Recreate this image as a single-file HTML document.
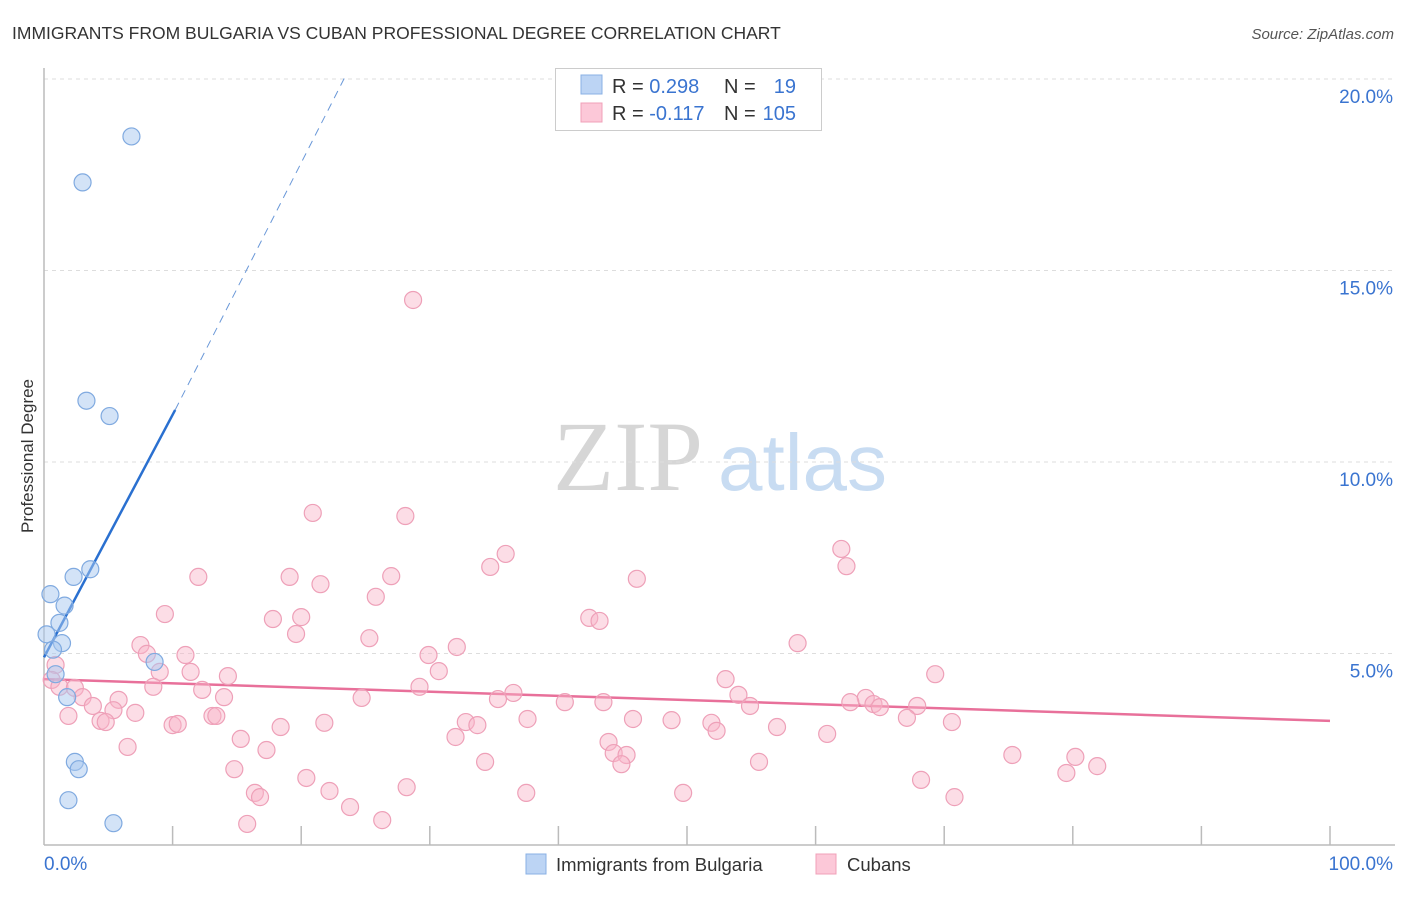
<!DOCTYPE html>
<html><head><meta charset="utf-8"><style>
body{margin:0;background:#fff;font-family:"Liberation Sans",sans-serif;}
</style></head><body>
<svg id="chart" width="1406" height="892" xmlns="http://www.w3.org/2000/svg" font-family="Liberation Sans, sans-serif">
<text x="12" y="39" font-size="17.5" fill="#333">IMMIGRANTS FROM BULGARIA VS CUBAN PROFESSIONAL DEGREE CORRELATION CHART</text>
<text x="1394" y="39" font-size="15" fill="#555" text-anchor="end" font-style="italic">Source: ZipAtlas.com</text>
<g>
<text x="553" y="490" font-size="100" fill="#d6d6d6" style="font-family:'Liberation Serif',serif">ZIP</text>
<text x="718" y="490" font-size="80" fill="#c8dcf2">atlas</text>
</g>
<g id="grid"></g>
<g id="axes"></g>
<text transform="translate(33,456) rotate(-90)" font-size="17" fill="#333" text-anchor="middle">Professional Degree</text>
<g id="lines"></g>
<g id="pts"></g>
<g>
<rect x="555.5" y="68.5" width="266" height="62" fill="#fff" stroke="#ccc"/>
<rect x="581" y="75" width="21" height="19" fill="#bcd4f4" stroke="#8ab0e4"/>
<rect x="581" y="103" width="21" height="19" fill="#fcc8d8" stroke="#f0a0b8"/>
<text x="612" y="93" font-size="20" fill="#333">R = <tspan fill="#3a74d0">0.298</tspan></text>
<text x="724" y="93" font-size="20" fill="#333">N = </text><text x="796" y="93" font-size="20" fill="#3a74d0" text-anchor="end">19</text>
<text x="612" y="120" font-size="20" fill="#333">R = <tspan fill="#3a74d0">-0.117</tspan></text>
<text x="724" y="120" font-size="20" fill="#333">N = </text><text x="796" y="120" font-size="20" fill="#3a74d0" text-anchor="end">105</text>
</g>
<g>
<rect x="526" y="854" width="20" height="20" fill="#bcd4f4" stroke="#8ab0e4"/>
<text x="556" y="871" font-size="18.5" fill="#333">Immigrants from Bulgaria</text>
<rect x="816" y="854" width="20" height="20" fill="#fcc8d8" stroke="#f0a0b8"/>
<text x="847" y="871" font-size="18.5" fill="#333">Cubans</text>
</g>
</svg>
<script>
const yTicks=[5,10,15,20];
const yTickLabels=["5.0%","10.0%","15.0%","20.0%"];
const xTickLabels=["0.0%","100.0%"];
const blueX=[6.8,3.0,3.3,5.1,3.6,2.3,0.5,1.6,1.2,0.2,1.4,0.7,8.6,0.9,1.8,2.4,2.7,1.9,5.4];
const blueY=[18.5,17.3,11.6,11.2,7.2,7.0,6.55,6.25,5.8,5.5,5.27,5.1,4.78,4.46,3.86,2.17,1.98,1.17,0.57];
const pinkX=[28.7,20.9,28.1,35.9,62.0,62.4,34.7,12.0,19.1,27.0,21.5,46.1,25.8,9.4,17.8,20.0,42.4,43.2,19.6,25.3,7.5,58.6,32.1,8.0,11.0,29.9,0.9,9.0,11.4,30.7,14.3,69.3,53.0,0.6,1.2,2.4,8.5,29.2,12.3,14.0,24.7,36.5,54.0,35.3,3.0,5.8,40.5,43.5,63.9,62.7,64.5,65.0,67.9,3.8,54.9,5.4,7.1,1.9,13.1,13.4,4.4,4.8,37.6,45.8,48.8,67.1,70.6,10.0,10.4,32.8,21.8,33.7,18.4,51.9,52.3,57.0,32.0,15.3,60.9,43.9,6.5,17.3,44.3,45.3,44.9,75.3,80.2,34.3,55.6,14.8,79.5,81.9,20.4,68.2,28.2,22.2,49.7,37.5,16.4,16.8,70.8,23.8,26.3,15.8];
const pinkY=[14.23,8.67,8.59,7.60,7.73,7.28,7.26,7.00,7.00,7.02,6.81,6.95,6.48,6.03,5.90,5.95,5.93,5.85,5.51,5.40,5.22,5.27,5.17,4.99,4.96,4.96,4.70,4.52,4.52,4.54,4.41,4.46,4.33,4.31,4.13,4.10,4.13,4.13,4.05,3.86,3.84,3.97,3.92,3.81,3.86,3.79,3.73,3.73,3.84,3.73,3.68,3.60,3.63,3.63,3.63,3.52,3.45,3.37,3.37,3.37,3.24,3.21,3.29,3.29,3.26,3.32,3.21,3.13,3.16,3.21,3.19,3.13,3.08,3.19,2.98,3.08,2.82,2.77,2.90,2.69,2.56,2.48,2.40,2.35,2.11,2.35,2.30,2.17,2.17,1.98,1.88,2.06,1.75,1.70,1.51,1.41,1.36,1.36,1.36,1.25,1.25,0.99,0.65,0.55];
const blueTrend=[[0,4.9],[10.2,11.36],[23.4,20.05]];
const pinkTrend=[[0,4.33],[100,3.24]];
const NS="http://www.w3.org/2000/svg";
const sx=v=>44+v*12.86, sy=v=>845-v*38.3;
function mk(t,a,p){const e=document.createElementNS(NS,t);for(const k in a)e.setAttribute(k,a[k]);p.appendChild(e);return e;}
const grid=document.getElementById('grid'),axes=document.getElementById('axes'),lines=document.getElementById('lines'),pts=document.getElementById('pts');
yTicks.forEach((t,i)=>{
 const l=mk('line',{x1:44,x2:1395,y1:sy(t),y2:sy(t),stroke:'#ddd','stroke-dasharray':'4,4'},grid);
 
 
 const tx=mk('text',{x:1393,y:sy(t)+24,'font-size':19,fill:'#3a74d0','text-anchor':'end'},axes);
 tx.textContent=yTickLabels[i];
 
 
});
mk('line',{x1:44,x2:44,y1:68,y2:845,stroke:'#bbb','stroke-width':1.5},axes);
mk('line',{x1:44,x2:1395,y1:845,y2:845,stroke:'#bbb','stroke-width':1.5},axes);
for(let i=1;i<=10;i++){const t=mk('line',{x1:sx(i*10),x2:sx(i*10),y1:826,y2:845,stroke:'#bbb','stroke-width':1.5},axes);
 
 }
const x0=mk('text',{x:44,y:870,'font-size':19,fill:'#3a74d0'},axes);x0.textContent=xTickLabels[0];


const x1=mk('text',{x:1393,y:870,'font-size':19,fill:'#3a74d0','text-anchor':'end'},axes);x1.textContent=xTickLabels[1];


pinkX.forEach((x,i)=>{const c=mk('circle',{cx:sx(x),cy:sy(pinkY[i]),r:8.5,fill:'rgba(248,180,200,0.45)',stroke:'#eea0b8','stroke-width':1.2},pts);
 
 });
blueX.forEach((x,i)=>{const c=mk('circle',{cx:sx(x),cy:sy(blueY[i]),r:8.5,fill:'rgba(168,200,240,0.5)',stroke:'#80aae0','stroke-width':1.2},pts);
 
 });
const pl=mk('line',{x1:sx(pinkTrend[0][0]),y1:sy(pinkTrend[0][1]),x2:sx(pinkTrend[1][0]),y2:sy(pinkTrend[1][1]),stroke:'#e8709a','stroke-width':2.5},lines);


const bl=mk('line',{x1:sx(blueTrend[0][0]),y1:sy(blueTrend[0][1]),x2:sx(blueTrend[1][0]),y2:sy(blueTrend[1][1]),stroke:'#2a70d0','stroke-width':2.5},lines);


const bd=mk('line',{x1:sx(blueTrend[1][0]),y1:sy(blueTrend[1][1]),x2:sx(blueTrend[2][0]),y2:sy(blueTrend[2][1]),stroke:'#6a98d8','stroke-width':1,'stroke-dasharray':'8,6'},lines);


</script>
</body></html>
